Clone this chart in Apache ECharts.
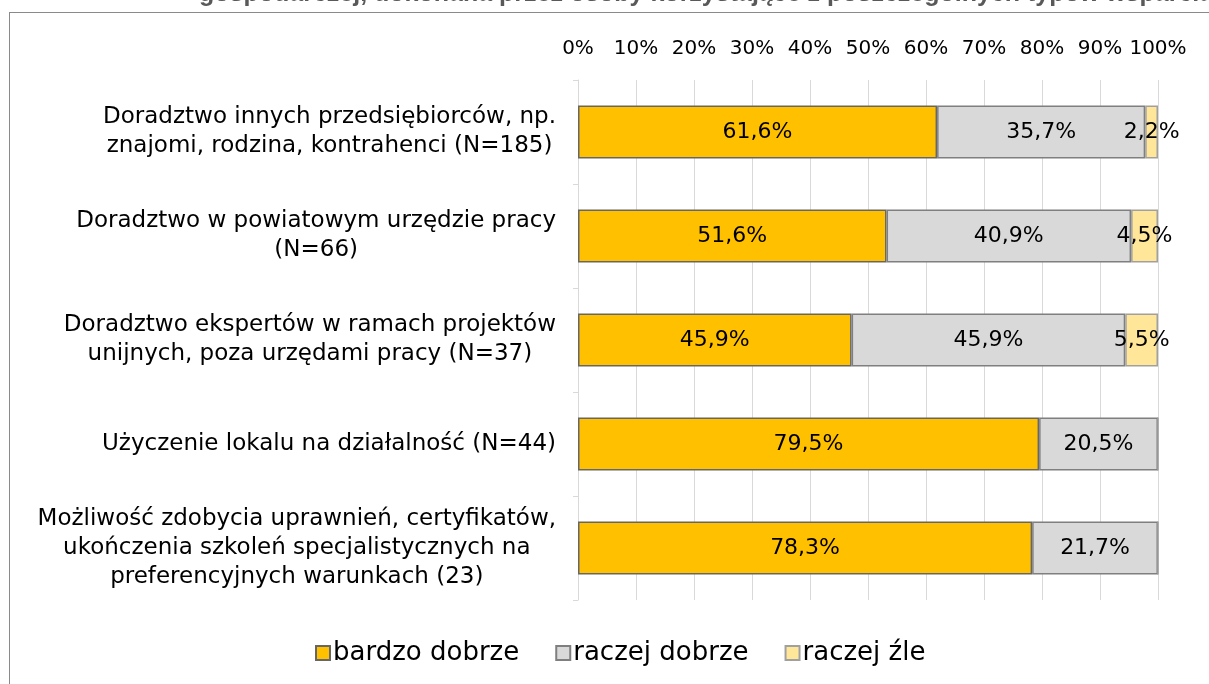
<!DOCTYPE html>
<html>
<head>
<meta charset="utf-8">
<script src="https://cdn.jsdelivr.net/npm/echarts@6/dist/echarts.min.js"></script>
<style>
html,body{margin:0;padding:0;background:#fff;}
#frame{position:absolute;left:9px;top:12px;width:1300px;height:800px;border:1.5px solid #8a8a8a;box-sizing:border-box;}
#chart{position:absolute;left:0;top:0;width:1209px;height:684px;}
</style>
</head>
<body>
<div id="frame"></div>
<div id="chart"></div>
<script>
var titleText = 'gospodarczej, dokonana przez osoby korzystające z poszczególnych typów wsparcia';
var categories = [
  ['Doradztwo innych przedsiębiorców, np.', 'znajomi, rodzina, kontrahenci (N=185)'],
  ['Doradztwo w powiatowym urzędzie pracy', '(N=66)'],
  ['Doradztwo ekspertów w ramach projektów', 'unijnych, poza urzędami pracy (N=37)'],
  ['Użyczenie lokalu na działalność (N=44)'],
  ['Możliwość zdobycia uprawnień, certyfikatów,', 'ukończenia szkoleń specjalistycznych na', 'preferencyjnych warunkach (23)']
];
var seriesNames = ['bardzo dobrze', 'raczej dobrze', 'raczej źle'];
var bardzoDobrze = [61.6, 51.6, 45.9, 79.5, 78.3];
var raczejDobrze = [35.7, 40.9, 45.9, 20.5, 21.7];
var raczejZle = [2.2, 4.5, 5.5, 0, 0];
var xTicks = [0, 10, 20, 30, 40, 50, 60, 70, 80, 90, 100];

var raw = [bardzoDobrze, raczejDobrze, raczejZle];
var colors = ['#FFC000', '#D9D9D9', '#FFE699'];
var borders = ['#666666', '#7f7f7f', '#a0a0a0'];
var totals = categories.map(function (c, i) { return bardzoDobrze[i] + raczejDobrze[i] + raczejZle[i]; });

var FONT = 'DejaVu Sans';
var catKeys = categories.map(function (c) { return c.join('\n'); });

var series = raw.map(function (arr, s) {
  return {
    name: seriesNames[s],
    type: 'bar',
    stack: 'total',
    barWidth: '51%',
    itemStyle: { color: colors[s], borderColor: borders[s], borderWidth: 1.5 },
    label: {
      show: true,
      position: 'inside',
      color: '#000',
      fontFamily: FONT,
      fontSize: 22,
      formatter: function (p) {
        var v = arr[p.dataIndex];
        if (!v) return '';
        return v.toFixed(1).replace('.', ',') + '%';
      }
    },
    emphasis: { disabled: true },
    data: arr.map(function (v, i) { return v / totals[i] * 100; })
  };
});

var chart = echarts.init(document.getElementById('chart'), null, { renderer: 'canvas' });
chart.setOption({
  animation: false,
  backgroundColor: 'transparent',
  title: {
    text: titleText,
    left: 194,
    top: -23,
    textStyle: { fontFamily: 'Liberation Sans', fontWeight: 'bold', fontSize: 25, color: '#595959' }
  },
  grid: { left: 578, right: 51, top: 80, bottom: 84 },
  legend: {
    bottom: 13,
    left: 310,
    icon: 'rect',
    itemWidth: 14,
    itemHeight: 14,
    itemGap: 36,
    selectedMode: false,
    textStyle: { fontFamily: FONT, fontSize: 26, color: '#000', padding: [0, 0, 0, -2] },
    data: seriesNames
  },
  xAxis: {
    type: 'value',
    position: 'top',
    min: 0,
    max: 100,
    interval: 10,
    axisLine: { show: false },
    axisTick: { show: false },
    splitLine: { show: true, lineStyle: { color: '#d9d9d9', width: 1 } },
    axisLabel: {
      margin: 21,
      fontFamily: FONT,
      fontSize: 20,
      color: '#000',
      formatter: function (v) { return xTicks.indexOf(v) >= 0 ? v + '%' : ''; }
    }
  },
  yAxis: {
    type: 'category',
    inverse: true,
    data: catKeys,
    axisLine: { show: true, lineStyle: { color: '#d9d9d9', width: 1 } },
    axisTick: { show: true, length: 5, lineStyle: { color: '#d9d9d9' } },
    axisLabel: {
      margin: 22,
      fontFamily: FONT,
      fontSize: 23,
      color: '#000',
      lineHeight: 29,
      formatter: function (v) {
        return v.split('\n').map(function (l) { return '{c|' + l + '}'; }).join('\n');
      },
      rich: { c: { align: 'center', fontFamily: FONT, fontSize: 23, lineHeight: 29, color: '#000' } }
    }
  },
  series: series
});
</script>
</body>
</html>
